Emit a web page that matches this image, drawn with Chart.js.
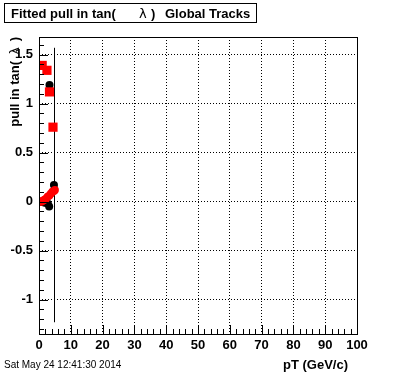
<!DOCTYPE html>
<html>
<head>
<meta charset="utf-8">
<script src="https://cdn.jsdelivr.net/npm/chart.js@4/dist/chart.umd.min.js"></script>
<style>
  html, body { margin: 0; padding: 0; background: #fff; }
  #wrap { width: 396px; height: 372px; }
</style>
</head>
<body>
<div id="wrap"><canvas id="pullChart" width="396" height="372"></canvas></div>
<script>
// black: fitted mean of the pull, with errors
const meanPt  = [0.3, 0.8, 1.3, 1.8, 2.3, 2.8, 3.2, 3.3, 4.7];
const meanVal = [0.0, 0.0, 0.0, -0.01, 0.0, -0.02, -0.05, 1.19, 0.17];
const meanErr = [0.01, 0.01, 0.01, 0.01, 0.02, 0.02, 0.03, 0.03, 1.4];

// red: fitted width, small markers near zero and the big squares
const widthPt  = [0.2, 0.7, 1.2, 1.7, 2.2, 2.7, 3.2, 3.7, 4.2, 4.7, 5.0];
const widthVal = [0.0, 0.0, 0.01, 0.02, 0.03, 0.05, 0.06, 0.08, 0.1, 0.11, 0.12];
const sqPt  = [1.0, 2.5, 3.3, 4.4];
const sqVal = [1.39, 1.34, 1.12, 0.76];

const xTicks = [0, 10, 20, 30, 40, 50, 60, 70, 80, 90, 100];
const yTicks = [-1, -0.5, 0, 0.5, 1, 1.5];
const yTickLabels = ['-1', '-0.5', '0', '0.5', '1', '1.5'];

const FONT = '"Liberation Sans", Arial, Helvetica, sans-serif';

function pts(xs, ys) {
    return xs.map((x, i) => ({ x: x, y: ys[i] }));
}

// ROOT style frame, inner ticks, error bars and texts
const rootStyle = {
    id: 'rootStyle',
    beforeDatasetsDraw(chart) {
        const ctx = chart.ctx;
        const xs = chart.scales.x, ys = chart.scales.y;
        ctx.save();
        ctx.strokeStyle = '#000';
        ctx.lineWidth = 1;
        meanPt.forEach((p, i) => {
            const px = Math.round(xs.getPixelForValue(p)) + 0.5;
            ctx.beginPath();
            ctx.moveTo(px, ys.getPixelForValue(meanVal[i] + meanErr[i]));
            ctx.lineTo(px, ys.getPixelForValue(meanVal[i] - meanErr[i]));
            ctx.stroke();
        });
        ctx.restore();
    },
    afterDraw(chart) {
        const ctx = chart.ctx;
        const a = chart.chartArea;
        const xs = chart.scales.x, ys = chart.scales.y;
        ctx.save();
        ctx.strokeStyle = '#000';
        ctx.lineWidth = 1;
        // frame
        ctx.strokeRect(Math.round(a.left) + 0.5, Math.round(a.top) + 0.5,
            Math.round(a.right - a.left), Math.round(a.bottom - a.top));
        // x ticks
        ctx.beginPath();
        for (let v = 0; v <= 100; v += 2) {
            const px = Math.round(xs.getPixelForValue(v)) + 0.5;
            const len = v % 10 === 0 ? 9 : 5;
            ctx.moveTo(px, a.bottom);
            ctx.lineTo(px, a.bottom - len);
        }
        // y ticks
        for (let k = -13; k <= 16; k++) {
            const v = k / 10;
            const py = Math.round(ys.getPixelForValue(v)) + 0.5;
            const len = k % 5 === 0 ? 9 : 5;
            ctx.moveTo(a.left, py);
            ctx.lineTo(a.left + len, py);
        }
        ctx.stroke();

        // title box
        ctx.fillStyle = '#fff';
        ctx.fillRect(4, 3, 253, 19);
        ctx.strokeRect(4.5, 3.5, 252, 19);
        ctx.fillStyle = '#000';
        ctx.textBaseline = 'alphabetic';
        ctx.textAlign = 'left';
        ctx.font = 'bold 13px ' + FONT;
        ctx.fillText('Fitted pull in tan(', 11, 18);
        ctx.font = '13px "DejaVu Sans", sans-serif';
        ctx.fillText('\u03bb', 139, 18);
        ctx.font = 'bold 13px ' + FONT;
        ctx.fillText(')', 151, 18);
        ctx.fillText('Global Tracks', 165, 18);

        // y title
        ctx.save();
        ctx.translate(19, 37);
        ctx.rotate(-Math.PI / 2);
        ctx.textAlign = 'right';
        ctx.font = 'bold 13px ' + FONT;
        ctx.fillText(')', 0, 0);
        ctx.font = '13px "DejaVu Sans", sans-serif';
        ctx.fillText('\u03bb', -10, 0);
        ctx.font = 'bold 13px ' + FONT;
        ctx.fillText('pull in tan(', -24, 0);
        ctx.restore();

        // x title
        ctx.textAlign = 'right';
        ctx.font = 'bold 13px ' + FONT;
        ctx.fillText('pT (GeV/c)', 348, 369);

        // date stamp
        ctx.textAlign = 'left';
        ctx.font = '10px ' + FONT;
        ctx.fillText('Sat May 24 12:41:30 2014', 4, 368);
        ctx.restore();
    }
};

new Chart(document.getElementById('pullChart'), {
    type: 'scatter',
    data: {
        datasets: [
            {
                label: 'width',
                data: pts(sqPt, sqVal),
                pointStyle: 'rect',
                pointRadius: 6.5,
                backgroundColor: '#ff0000',
                borderColor: '#ff0000',
                borderWidth: 0
            },
            {
                label: 'width small',
                data: pts(widthPt, widthVal),
                pointStyle: 'circle',
                pointRadius: 4,
                backgroundColor: '#ff0000',
                borderColor: '#ff0000',
                borderWidth: 0
            },
            {
                label: 'mean',
                data: pts(meanPt, meanVal),
                pointStyle: 'circle',
                pointRadius: 4,
                backgroundColor: '#000',
                borderColor: '#000',
                borderWidth: 0
            }
        ]
    },
    options: {
        responsive: false,
        animation: false,
        events: [],
        layout: { padding: { left: 0, right: 39, top: 37, bottom: 0 } },
        plugins: {
            legend: { display: false },
            title: { display: false },
            tooltip: { enabled: false }
        },
        scales: {
            x: {
                type: 'linear',
                min: 0,
                max: 100,
                afterBuildTicks: s => { s.ticks = xTicks.map(v => ({ value: v })); },
                afterFit: s => { s.height = 38; },
                grid: { color: '#000', lineWidth: 1, drawTicks: false },
                border: { display: false, dash: [1, 2] },
                ticks: {
                    padding: 4,
                    color: '#000',
                    maxRotation: 0,
                    font: { family: FONT, size: 13, weight: 'bold' }
                }
            },
            y: {
                type: 'linear',
                min: -1.35,
                max: 1.68,
                afterBuildTicks: s => { s.ticks = yTicks.map(v => ({ value: v })); },
                afterFit: s => { s.width = 39; },
                grid: { color: '#000', lineWidth: 1, drawTicks: false },
                border: { display: false, dash: [1, 2] },
                ticks: {
                    padding: 6,
                    color: '#000',
                    font: { family: FONT, size: 13, weight: 'bold' },
                    callback: (v) => yTickLabels[yTicks.indexOf(v)]
                }
            }
        }
    },
    plugins: [rootStyle]
});
</script>
</body>
</html>
